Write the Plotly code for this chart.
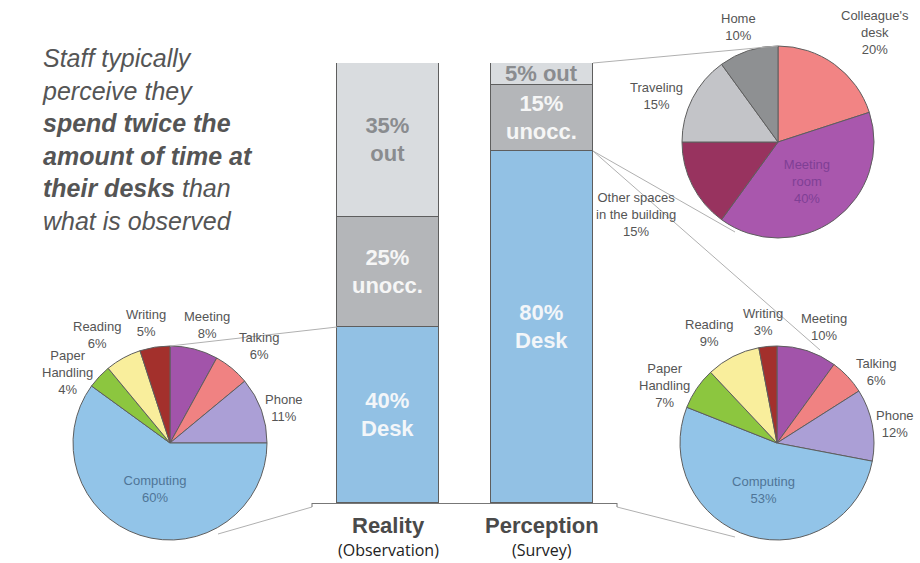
import math
import plotly.graph_objects as go

W, H = 920, 563

# ---------------- data ----------------
bar_categories = ["Reality", "Perception"]
bar_subtitles = ["(Observation)", "(Survey)"]
desk_pct = [40, 80]
unocc_pct = [25, 15]
out_pct = [35, 5]

desk_activity_labels = ["Meeting", "Talking", "Phone", "Computing",
                        "Paper<br>Handling", "Reading", "Writing"]
reality_desk_values = [8, 6, 11, 60, 4, 6, 5]
perception_desk_values = [10, 6, 12, 53, 7, 9, 3]

away_labels = ["Colleague's<br>desk", "Meeting<br>room",
               "Other spaces<br>in the building", "Traveling", "Home"]
away_values = [20, 40, 15, 15, 10]

# ---------------- styles ----------------
DESK_C = "#92c1e4"
UNOCC_C = "#b4b6b9"
OUT_C = "#d9dcdf"
EDGE = "#5e5e5e"
activity_colors = ["#a254aa", "#f08282", "#ab9fd6", "#92c4e8",
                   "#8cc63f", "#f9ee9c", "#a3302c"]
away_colors = ["#f28484", "#a957ad", "#98335f", "#c3c4c8", "#8e9092"]
LABEL_FONT = dict(family="Arial", size=13, color="#555555")


def px_x(p):
    return p / W


def px_y(p):
    return 1 - p / H


# bar plotting area (pixels)
bar_bottom_px, bar_top_px = 503, 63
ydom = [px_y(bar_bottom_px), px_y(bar_top_px)]
x_left_px, x_right_px = 312, 617
c0_px, step_px = 388, 154
xrange_ = [(x_left_px - c0_px) / step_px, (x_right_px - c0_px) / step_px]


def val_to_paper_y(v):
    return ydom[0] + v / 100 * (ydom[1] - ydom[0])


def cat_to_paper_x(xv):
    return px_x(c0_px + xv * step_px)


fig = go.Figure()

bar_w = 102 / step_px
xs = [0, 1]
fig.add_trace(go.Bar(
    x=xs, y=desk_pct, width=bar_w, marker=dict(color=DESK_C, line=dict(color=EDGE, width=1.2)),
    text=[f"{v}%<br>Desk" for v in desk_pct], textposition="inside", insidetextanchor="middle",
    textfont=dict(family="Arial", size=23, color="#f3f6f9", weight="bold"),
    constraintext="none", hoverinfo="skip", showlegend=False))
fig.add_trace(go.Bar(
    x=xs, y=unocc_pct, width=bar_w, marker=dict(color=UNOCC_C, line=dict(color=EDGE, width=1.2)),
    text=[f"{v}%<br>unocc." for v in unocc_pct], textposition="inside", insidetextanchor="middle",
    textfont=dict(family="Arial", size=23, color="#f6f6f6", weight="bold"),
    constraintext="none", hoverinfo="skip", showlegend=False))
fig.add_trace(go.Bar(
    x=xs, y=out_pct, width=bar_w, marker=dict(color=OUT_C, line=dict(color=EDGE, width=1.2)),
    text=[(f"{v}%<br>out" if v >= 10 else f"{v}% out") for v in out_pct],
    textposition="inside", insidetextanchor="middle",
    textfont=dict(family="Arial", size=22, color="#8a8c8f", weight="bold"),
    constraintext="none", hoverinfo="skip", showlegend=False))


def pie_domain(cx, cy, r):
    return dict(x=[px_x(cx - r), px_x(cx + r)], y=[px_y(cy + r), px_y(cy - r)])


def pie(labels, values, colors, dom, inside_idx, inside_color):
    tmpl = ["%{label}<br>%{value}%" if i == inside_idx else "" for i in range(len(values))]
    return go.Pie(
        labels=labels, values=values, sort=False, direction="clockwise", rotation=0,
        marker=dict(colors=colors, line=dict(color=EDGE, width=1)),
        texttemplate=tmpl, textposition="inside",
        insidetextorientation="horizontal",
        insidetextfont=dict(family="Arial", size=13, color=inside_color),
        domain=dom, showlegend=False, hoverinfo="skip")


annotations = []


def pie_labels(labels, values, cx, cy, r, skip_idx, gap=6):
    total = sum(values)
    cum = 0
    for i, (lab, v) in enumerate(zip(labels, values)):
        mid = (cum + v / 2) / total * 2 * math.pi
        cum += v
        if i == skip_idx:
            continue
        s, c = math.sin(mid), math.cos(mid)
        ax, ay = cx + (r + gap) * s, cy - (r + gap) * c
        lines = lab.split("<br>") + [f"{v}%"]
        half_w = max(len(t) for t in lines) * 6.8 / 2
        shift = half_w * max(-1.0, min(1.0, s / 0.5))
        ya = "bottom" if c > 0.7 else ("top" if c < -0.4 else "middle")
        annotations.append(dict(xref="paper", yref="paper", x=px_x(ax + shift), y=px_y(ay),
                                text=f"{lab}<br>{v}%", showarrow=False, align="center",
                                xanchor="center", yanchor=ya, font=LABEL_FONT))


LP = (170, 443, 97)
RP = (777, 443, 97)
TP = (778, 142, 96)
fig.add_trace(pie(desk_activity_labels, reality_desk_values, activity_colors,
                  pie_domain(*LP), 3, "#4f7597"))
fig.add_trace(pie(desk_activity_labels, perception_desk_values, activity_colors,
                  pie_domain(*RP), 3, "#4f7597"))
fig.add_trace(pie(away_labels, away_values, away_colors,
                  pie_domain(*TP), 1, "#7f3f95"))
pie_labels(desk_activity_labels, reality_desk_values, *LP, 3)
pie_labels(desk_activity_labels, perception_desk_values, *RP, 3)
pie_labels(away_labels, away_values, *TP, 1)

# ---------------- connector lines ----------------
LINE_C = "#b0b0b0"
shapes = []


def seg(x0, y0, x1, y1, color=LINE_C, w=1):
    shapes.append(dict(type="line", xref="paper", yref="paper",
                       x0=x0, y0=y0, x1=x1, y1=y1, line=dict(color=color, width=w)))


half = bar_w / 2
# Reality desk -> left pie
seg(cat_to_paper_x(0 - half), val_to_paper_y(desk_pct[0]), px_x(LP[0]), px_y(LP[1] - LP[2]))
seg(px_x(x_left_px), px_y(bar_bottom_px + 4), px_x(218), px_y(534))
# Perception bar -> top pie and bottom-right pie
seg(cat_to_paper_x(1 + half), val_to_paper_y(100), px_x(TP[0]), px_y(TP[1] - TP[2]))
seg(cat_to_paper_x(1 + half), val_to_paper_y(desk_pct[1]), px_x(735), px_y(232))
seg(cat_to_paper_x(1 + half), val_to_paper_y(desk_pct[1]), px_x(820), px_y(350))
seg(px_x(x_right_px), px_y(bar_bottom_px + 4), px_x(735), px_y(537))
# bracket ticks at baseline ends
seg(px_x(x_left_px), px_y(bar_bottom_px), px_x(x_left_px), px_y(bar_bottom_px + 4), "#777777")
seg(px_x(x_right_px), px_y(bar_bottom_px), px_x(x_right_px), px_y(bar_bottom_px + 4), "#777777")

for i, (cat, sub) in enumerate(zip(bar_categories, bar_subtitles)):
    annotations.append(dict(xref="x", yref="paper", x=i, y=px_y(525), text=f"<b>{cat}</b>",
                            showarrow=False, xanchor="center", yanchor="middle",
                            font=dict(family="Arial", size=22, color="#4a4a4a")))
    annotations.append(dict(xref="x", yref="paper", x=i, y=px_y(550), text=sub,
                            showarrow=False, xanchor="center", yanchor="middle",
                            font=dict(family="Open Sans", size=16, color="#222222")))

intro = ("Staff typically<br>perceive they<br><b>spend twice the</b><br>"
         "<b>amount of time at</b><br><b>their desks</b> than<br>what is observed")
annotations.append(dict(xref="paper", yref="paper", x=px_x(40), y=px_y(139.5), text=intro,
                        showarrow=False, xanchor="left", yanchor="middle", align="left",
                        font=dict(family="Arial", size=25, color="#555555", style="italic")))

fig.update_layout(
    width=W, height=H, margin=dict(l=0, r=0, t=0, b=0),
    paper_bgcolor="white", plot_bgcolor="white",
    barmode="stack", bargap=0,
    uniformtext=dict(minsize=12, mode="show"),
    xaxis=dict(domain=[px_x(x_left_px), px_x(x_right_px)], range=xrange_,
               showgrid=False, zeroline=False, showticklabels=False, ticks="",
               showline=True, linecolor="#777777", linewidth=1, fixedrange=True),
    yaxis=dict(domain=ydom, range=[0, 100], showgrid=False, zeroline=False,
               showticklabels=False, ticks="", showline=False, fixedrange=True),
    shapes=shapes, annotations=annotations,
)

fig.write_html("out.html")
